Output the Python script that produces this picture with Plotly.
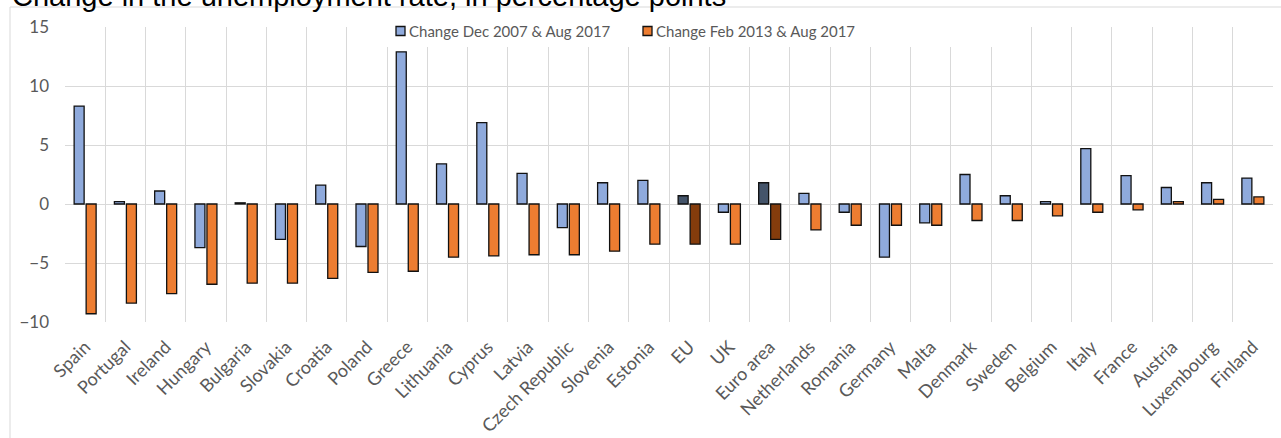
import plotly.graph_objects as go

countries = ["Spain", "Portugal", "Ireland", "Hungary", "Bulgaria", "Slovakia", "Croatia", "Poland",
             "Greece", "Lithuania", "Cyprus", "Latvia", "Czech Republic", "Slovenia", "Estonia", "EU",
             "UK", "Euro area", "Netherlands", "Romania", "Germany", "Malta", "Denmark", "Sweden",
             "Belgium", "Italy", "France", "Austria", "Luxembourg", "Finland"]
change_2007 = [8.3, 0.2, 1.1, -3.7, 0.1, -3.0, 1.6, -3.6, 12.9, 3.4, 6.9, 2.6, -2.0, 1.8, 2.0, 0.7,
               -0.7, 1.8, 0.9, -0.7, -4.5, -1.6, 2.5, 0.7, 0.2, 4.7, 2.4, 1.4, 1.8, 2.2]
change_2013 = [-9.3, -8.4, -7.6, -6.8, -6.7, -6.7, -6.3, -5.8, -5.7, -4.5, -4.4, -4.3, -4.3, -4.0, -3.4, -3.4,
               -3.4, -3.0, -2.2, -1.8, -1.8, -1.8, -1.4, -1.4, -1.0, -0.7, -0.5, 0.2, 0.4, 0.6]
yticks = [-10, -5, 0, 5, 10, 15]
series_names = ["Change Dec 2007 & Aug 2017", "Change Feb 2013 & Aug 2017"]

BLUE, BLUE_DARK = "#8FAADC", "#44546A"
ORANGE, ORANGE_DARK = "#ED7D31", "#843C0C"
highlight = {"EU", "Euro area"}

blue_cols = [BLUE_DARK if c in highlight else BLUE for c in countries]
orange_cols = [ORANGE_DARK if c in highlight else ORANGE for c in countries]

fig = go.Figure()
fig.add_trace(go.Bar(x=countries, y=change_2007, name=series_names[0], showlegend=False,
                     marker=dict(color=blue_cols, line=dict(color="#111111", width=1.3))))
fig.add_trace(go.Bar(x=countries, y=change_2013, name=series_names[1], showlegend=False,
                     marker=dict(color=orange_cols, line=dict(color="#111111", width=1.3))))

# pixel geometry
W, H = 1281, 438
L, R, T, B = 65, 8, 27, 116
PW, PH = W - L - R, H - T - B

def px_x(p):
    return (p - L) / PW

def px_y(p):
    return (H - B - p) / PH

shapes = [
    # legend white box
    dict(type="rect", xref="paper", yref="paper", x0=px_x(362), x1=px_x(1000),
         y0=px_y(47), y1=px_y(12), fillcolor="white", line=dict(width=0), layer="above"),
    # chart frame
    dict(type="rect", xref="paper", yref="paper", x0=px_x(10), x1=px_x(1290),
         y0=px_y(445), y1=px_y(7), fillcolor="rgba(0,0,0,0)",
         line=dict(color="#D9D9D9", width=1), layer="above"),
]
annotations = [
    dict(text="Change in the unemployment rate, in percentage points", xref="paper", yref="paper",
         x=px_x(10), xanchor="left", y=px_y(14), yanchor="bottom", showarrow=False,
         font=dict(family="Liberation Sans", size=29, color="black")),
]
# custom legend (swatch + label)
for name, col, sx in zip(series_names, [BLUE, ORANGE], [396, 643]):
    shapes.append(dict(type="rect", xref="paper", yref="paper", x0=px_x(sx), x1=px_x(sx + 9),
                       y0=px_y(35.5), y1=px_y(26.5), fillcolor=col,
                       line=dict(color="#111111", width=1.3), layer="above"))
    annotations.append(dict(text=name, xref="paper", yref="paper", x=px_x(sx + 11), xanchor="left",
                            y=px_y(31), yanchor="middle", showarrow=False,
                            font=dict(family="Lato", size=15, color="#595959")))

fig.update_layout(
    width=W, height=H,
    margin=dict(l=L, r=R, t=T, b=B, pad=0, autoexpand=False),
    paper_bgcolor="white", plot_bgcolor="white",
    barmode="group", bargap=0.404, bargroupgap=0.167,
    font=dict(family="Lato", color="#595959", size=16),
    showlegend=False,
    xaxis=dict(type="category", tickson="boundaries", showgrid=True, gridcolor="#D9D9D9", gridwidth=1,
               tickangle=-45, ticks="", showline=False, zeroline=False, ticklabelstandoff=10,
               automargin=False, tickfont=dict(size=18, color="#595959")),
    yaxis=dict(range=[-10, 15], tickvals=yticks, showgrid=True, gridcolor="#D9D9D9", gridwidth=1,
               zeroline=True, zerolinecolor="#D9D9D9", zerolinewidth=1, ticks="", showline=False,
               automargin=False, ticklabelstandoff=15, tickfont=dict(size=17, color="#595959")),
    shapes=shapes,
    annotations=annotations,
)

fig.write_html("out.html")
